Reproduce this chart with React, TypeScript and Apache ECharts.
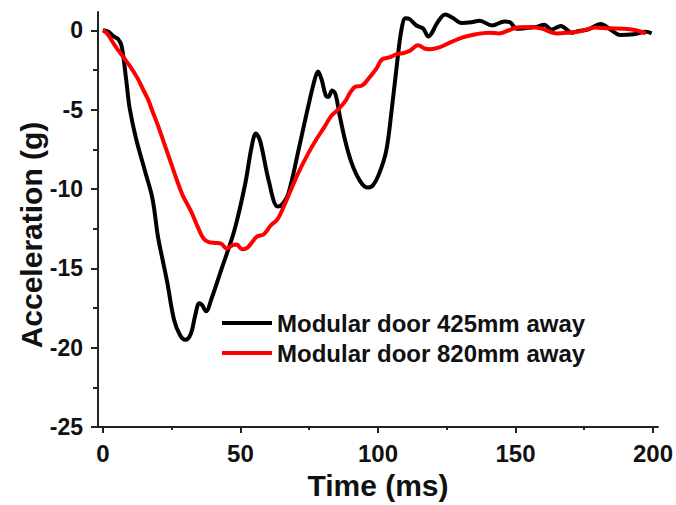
import React, { useEffect, useRef } from "react";
import * as echarts from "echarts";

const seriesNames = ["Modular door 425mm away", "Modular door 820mm away"];

const door425: [number, number][] = [
  [0, 0], [2, -0.1], [4, -0.4], [5.5, -0.55], [6.8, -1.0], [8.5, -3.2], [9.7, -4.9],
  [12, -6.8], [15.5, -9.0], [18, -10.6], [20, -13.0], [21.5, -14.3], [23.4, -15.9],
  [25.8, -18.2], [28, -19.2], [30, -19.5], [32, -19.1], [33.5, -18.0], [35, -17.2],
  [36, -17.3], [37.5, -17.7], [39.5, -16.9], [43, -15.1], [47.8, -12.6], [51.7, -9.7],
  [54, -7.4], [55.6, -6.5], [57.2, -7.0], [60.3, -9.5], [63.5, -11.1], [65, -11.0],
  [67.4, -10.3], [71.3, -7.4], [74.5, -4.9], [77, -3.1], [78.2, -2.6], [79.5, -3.1],
  [81, -4.1], [82, -4.2], [83.3, -3.8], [84.5, -4.0], [86, -5.3], [88, -6.9],
  [90.5, -8.4], [93.5, -9.5], [96, -9.9], [98, -9.8], [100.5, -9.0], [103, -7.6],
  [105, -5.0], [107, -2.0], [108.5, 0], [110, 0.75], [111.5, 0.7], [114, 0.3],
  [116.5, 0.1], [118.3, -0.4], [119.5, -0.2], [121.5, 0.45], [124.5, 1.0], [127, 0.8],
  [130.5, 0.45], [134, 0.5], [137, 0.6], [141.5, 0.3], [146, 0.55], [148, 0.5],
  [150.5, 0.1], [154.5, 0.15], [157.5, 0.2], [160.5, 0.35], [163, 0.05], [166.5, 0.27],
  [170.5, -0.15], [173, -0.05], [176.5, 0.05], [181, 0.4], [184.5, 0.05], [188, -0.3],
  [193, -0.25], [197.5, -0.1], [199.5, -0.2],
];

const door820: [number, number][] = [
  [0, 0], [1.5, -0.2], [3, -0.6], [4.5, -1.0], [7, -1.6], [10, -2.3], [12.5, -3.0],
  [14.5, -3.7], [16.5, -4.4], [18, -5.1], [20, -6.0], [22, -7.0], [25, -8.5], [27, -9.5],
  [29, -10.4], [32, -11.4], [34.5, -12.4], [36.5, -13.1], [38.5, -13.35], [41, -13.4],
  [43, -13.45], [45, -13.75], [47, -13.55], [48.7, -13.5], [50.5, -13.8], [52.5, -13.7],
  [54, -13.4], [56, -13.0], [58.5, -12.85], [61, -12.3], [63.5, -11.9], [66, -11.0],
  [68.5, -10.0], [71, -9.0], [74.5, -7.8], [77.5, -6.9], [80.5, -6.1], [83, -5.4],
  [85.5, -5.0], [88, -4.5], [90, -3.9], [91.8, -3.55], [94, -3.5], [97, -2.95],
  [99.5, -2.4], [101.4, -1.85], [104.4, -1.7], [106.8, -1.5], [109, -1.45], [111.5, -1.3],
  [114.6, -0.95], [117, -1.15], [119, -1.2], [122, -1.1], [126.5, -0.75], [130.8, -0.45],
  [135.6, -0.25], [140.4, -0.15], [144, -0.2], [147.6, 0.0], [150.6, 0.17], [156, 0.2],
  [159.6, 0.1], [165, -0.2], [169.2, -0.15], [174, -0.05], [178.8, 0.17], [183.6, 0.12],
  [189.6, 0.1], [193.8, 0.0], [197.4, -0.2],
];

const xMajorTicks = [0, 50, 100, 150, 200];
const xMinorTicks = [25, 75, 125, 175];
const yMajorTicks = [-25, -20, -15, -10, -5, 0];
const yMinorTicks = [-22.5, -17.5, -12.5, -7.5, -2.5];

const FONT = "'Liberation Sans', Arial, Helvetica, sans-serif";
const AXIS_COLOR = "#222";

export default function App() {
  const ref = useRef<HTMLDivElement>(null);

  useEffect(() => {
    if (!ref.current) return;
    const chart = echarts.init(ref.current, undefined, { renderer: "svg" });
    const xRange = { min: -1.8, max: 201.8 };
    const yRange = { min: -25, max: 1.15 };
    chart.setOption({
      animation: false,
      backgroundColor: "#fff",
      grid: { left: 98, right: 12, top: 12, bottom: 72 },
      legend: {
        orient: "vertical",
        left: 217,
        top: 303,
        icon: "rect",
        itemWidth: 50,
        itemHeight: 4,
        itemGap: 0,
        data: seriesNames,
        textStyle: {
          fontFamily: FONT,
          fontSize: 24,
          fontWeight: "bold",
          color: "#111",
          lineHeight: 30,
        },
      },
      xAxis: [
        {
          type: "value",
          ...xRange,
          position: "bottom",
          name: "Time (ms)",
          nameLocation: "middle",
          nameGap: 38,
          nameTextStyle: { fontFamily: FONT, fontSize: 30, fontWeight: "bold", color: "#111" },
          axisLine: { show: true, onZero: false, lineStyle: { color: AXIS_COLOR, width: 2 } },
          axisTick: { show: true, customValues: xMajorTicks, length: 6, lineStyle: { color: AXIS_COLOR, width: 2 } },
          axisLabel: {
            customValues: xMajorTicks,
            margin: 14,
            fontFamily: FONT,
            fontSize: 24,
            fontWeight: "bold",
            color: "#111",
          },
          splitLine: { show: false },
        },
        {
          type: "value",
          ...xRange,
          position: "bottom",
          axisLine: { show: false, onZero: false },
          axisTick: { show: true, customValues: xMinorTicks, length: 3, lineStyle: { color: AXIS_COLOR, width: 2 } },
          axisLabel: { show: false },
          splitLine: { show: false },
        },
      ],
      yAxis: [
        {
          type: "value",
          ...yRange,
          position: "left",
          axisLine: { show: true, onZero: false, lineStyle: { color: AXIS_COLOR, width: 2 } },
          axisTick: { show: true, customValues: yMajorTicks, length: 7, lineStyle: { color: AXIS_COLOR, width: 2 } },
          axisLabel: {
            customValues: yMajorTicks,
            margin: 15,
            fontFamily: FONT,
            fontSize: 23,
            fontWeight: "bold",
            color: "#111",
          },
          splitLine: { show: false },
        },
        {
          type: "value",
          ...yRange,
          position: "left",
          axisLine: { show: false, onZero: false },
          axisTick: { show: true, customValues: yMinorTicks, length: 5, lineStyle: { color: AXIS_COLOR, width: 2 } },
          axisLabel: { show: false },
          splitLine: { show: false },
        },
      ],
      graphic: [
        {
          type: "text",
          x: 31,
          y: 235,
          rotation: Math.PI / 2,
          style: {
            text: "Acceleration (g)",
            fontFamily: FONT,
            fontSize: 30,
            fontWeight: "bold",
            fill: "#111",
            textAlign: "center",
            textVerticalAlign: "middle",
          },
        },
      ],
      series: [
        {
          name: seriesNames[0],
          type: "line",
          data: door425,
          showSymbol: false,
          smooth: 0.35,
          color: "#000",
          lineStyle: { color: "#000", width: 4 },
        },
        {
          name: seriesNames[1],
          type: "line",
          data: door820,
          showSymbol: false,
          smooth: 0.35,
          color: "#ff0000",
          lineStyle: { color: "#ff0000", width: 4 },
        },
      ],
    });
    return () => chart.dispose();
  }, []);

  return (
    <div
      ref={ref}
      style={{ position: "fixed", left: 0, top: 0, width: 676, height: 505, background: "#fff" }}
    />
  );
}
